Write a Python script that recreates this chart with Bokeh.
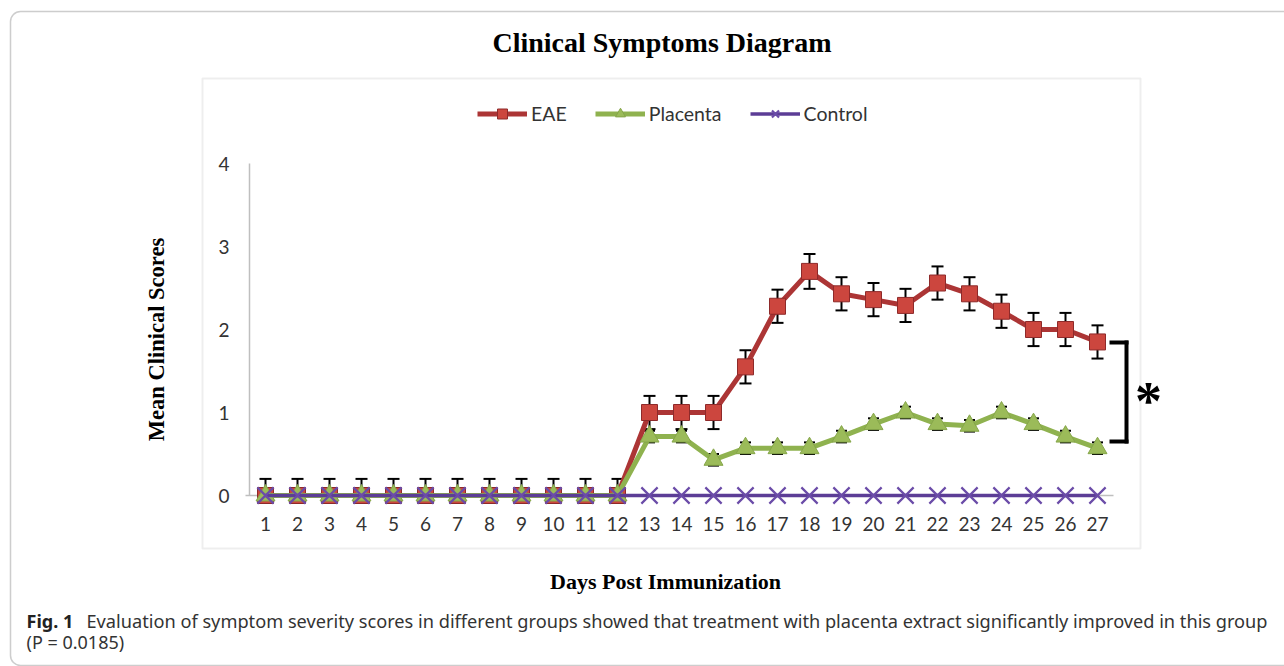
from bokeh.plotting import figure
from bokeh.models import (Range1d, FixedTicker, Label, BoxAnnotation, Arrow,
                          Whisker, ColumnDataSource, Legend, LegendItem, TeeHead)
from bokeh.embed import file_html
from bokeh.resources import INLINE

# ---------------- data ----------------
days = [1, 2, 3, 4, 5, 6, 7, 8, 9, 10, 11, 12, 13, 14, 15, 16, 17, 18, 19, 20,
        21, 22, 23, 24, 25, 26, 27]
eae = [0, 0, 0, 0, 0, 0, 0, 0, 0, 0, 0, 0,
       1.0, 1.0, 1.0, 1.55, 2.28, 2.70, 2.43, 2.36, 2.29, 2.56, 2.43, 2.22, 2.0, 2.0, 1.85]
eae_err = [0.2, 0.2, 0.2, 0.2, 0.2, 0.2, 0.2, 0.2, 0.2, 0.2, 0.2, 0.2,
           0.2, 0.2, 0.2, 0.2, 0.2, 0.21, 0.2, 0.2, 0.2, 0.2, 0.2, 0.2, 0.2, 0.2, 0.2]
placenta = [0, 0, 0, 0, 0, 0, 0, 0, 0, 0, 0, 0,
            0.71, 0.71, 0.43, 0.57, 0.57, 0.57, 0.71, 0.86, 1.0, 0.86, 0.84, 1.0, 0.86, 0.71, 0.57]
placenta_err = [0, 0, 0, 0, 0, 0, 0, 0, 0, 0, 0, 0,
                0.07, 0.07, 0.07, 0.07, 0.07, 0.07, 0.07, 0.07, 0.07, 0.07, 0.07, 0.07, 0.07, 0.07, 0.07]
control = [0, 0, 0, 0, 0, 0, 0, 0, 0, 0, 0, 0, 0, 0, 0, 0, 0, 0, 0, 0,
           0, 0, 0, 0, 0, 0, 0]
y_ticks = [0, 1, 2, 3, 4]
series_names = ["EAE", "Placenta", "Control"]

title_text = "Clinical Symptoms Diagram"
x_title = "Days Post Immunization"
y_title = "Mean Clinical Scores"
caption_bold = "Fig. 1"
caption_line1 = ("Evaluation of symptom severity scores in different groups showed that "
                 "treatment with placenta extract significantly improved in this group")
caption_line2 = "(P = 0.0185)"

# ---------------- layout geometry (canvas pixels) ----------------
W, H = 1284, 666
PX_DAY = 32.0       # pixels per day
PX_UNIT = 83.0      # pixels per score unit
X_EDGE = 249.0      # pixel of the category-axis start (x = 0.5)
Y_ZERO = 495.0      # pixel of score 0

x_start = 0.5 - X_EDGE / PX_DAY
x_end = 0.5 + (W - X_EDGE) / PX_DAY
y_end = Y_ZERO / PX_UNIT
y_start = (Y_ZERO - H) / PX_UNIT

def dx(px):
    return 0.5 + (px - X_EDGE) / PX_DAY

def dy(py):
    return (Y_ZERO - py) / PX_UNIT

p = figure(width=W, height=H, output_backend="svg", toolbar_location=None, title=None,
           x_range=Range1d(x_start, x_end), y_range=Range1d(y_start, y_end),
           min_border=0, min_border_left=0, min_border_right=0,
           min_border_top=0, min_border_bottom=0)
p.outline_line_color = None
p.grid.visible = False
p.background_fill_color = "white"
p.border_fill_color = "white"

# axes, fixed inside the frame
p.xaxis.fixed_location = dy(514)
p.yaxis.fixed_location = 0.5
p.xaxis.ticker = FixedTicker(ticks=days)
p.yaxis.ticker = FixedTicker(ticks=y_ticks)
for ax in (p.xaxis[0], p.yaxis[0]):
    ax.axis_line_color = None
    ax.major_tick_line_color = None
    ax.minor_tick_line_color = None
    ax.major_tick_in = 0
    ax.major_tick_out = 0
    ax.major_label_text_font = "Lato"
    ax.major_label_text_font_size = "19px"
    ax.major_label_text_color = "#333333"
p.xaxis.major_label_standoff = 2
p.yaxis.major_label_standoff = 20

# axis lines
p.add_layout(Arrow(x_start=0.5, y_start=0, x_end=0.5, y_end=4, start=None, end=None,
                   line_color="#BFBFBF", line_width=1.5))
p.add_layout(Arrow(x_start=dx(245), y_start=0, x_end=27.5, y_end=0, start=None, end=None,
                   line_color="#BFBFBF", line_width=1.5, level="underlay"))

# boxes
p.add_layout(BoxAnnotation(left=dx(10), right=dx(1300), top=dy(11), bottom=dy(665),
                           fill_alpha=0, line_color="#5a5a5a", line_width=1.5,
                           border_radius=10, level="underlay"))
p.add_layout(BoxAnnotation(left=dx(202), right=dx(1140), top=dy(78), bottom=dy(548),
                           fill_alpha=0, line_color="#C8C8C8", line_width=2,
                           level="underlay"))

# ---------------- series ----------------
src = ColumnDataSource(dict(
    day=days, eae=eae, placenta=placenta, control=control,
    eae_up=[v + e for v, e in zip(eae, eae_err)],
    eae_lo=[max(0, v - e) for v, e in zip(eae, eae_err)],
    pl_up=[v + e for v, e in zip(placenta, placenta_err)],
    pl_lo=[max(0, v - e) for v, e in zip(placenta, placenta_err)],
))

p.add_layout(Whisker(source=src, base="day", upper="eae_up", lower="eae_lo",
                     line_color="black", line_width=2,
                     upper_head=TeeHead(size=12, line_width=2, line_color="black"),
                     lower_head=TeeHead(size=12, line_width=2, line_color="black")))
p.add_layout(Whisker(source=src, base="day", upper="pl_up", lower="pl_lo",
                     line_color="black", line_width=2,
                     upper_head=TeeHead(size=11, line_width=2, line_color="black"),
                     lower_head=TeeHead(size=11, line_width=2, line_color="black")))

eae_l = p.line("day", "eae", source=src, line_color="#AC3535", line_width=5)
eae_m = p.scatter("day", "eae", source=src, marker="square", size=16,
                  fill_color="#CC463E", line_color="#8E2A2A", line_width=1)
pl_l = p.line("day", "placenta", source=src, line_color="#8FB24F", line_width=5)
pl_m = p.scatter("day", "placenta", source=src, marker="triangle", size=19,
                 fill_color="#9BBB59", line_color="#86A64A", line_width=1)
ct_l = p.line("day", "control", source=src, line_color="#5C3D96", line_width=3.5)
ct_m = p.scatter("day", "control", source=src, marker="x", size=23,
                 line_color="#6B4CA8", line_width=2.2)

legend = Legend(items=[LegendItem(label=series_names[0], renderers=[eae_l, eae_m]),
                       LegendItem(label=series_names[1], renderers=[pl_l, pl_m]),
                       LegendItem(label=series_names[2], renderers=[ct_l, ct_m])],
                orientation="horizontal",
                location=(477, H - 125.5),
                glyph_width=50, glyph_height=25, label_height=25,
                label_standoff=4, spacing=28, padding=0, margin=0,
                border_line_color=None, background_fill_alpha=0,
                label_text_font="Lato", label_text_font_size="19.5px",
                label_text_color="#333333")
p.add_layout(legend)

# bracket + asterisk
bk = dict(start=None, end=None, line_color="black", line_width=4, line_cap="square")
p.add_layout(Arrow(x_start=dx(1111), y_start=dy(342), x_end=dx(1126), y_end=dy(342), **bk))
p.add_layout(Arrow(x_start=dx(1126), y_start=dy(342), x_end=dx(1126), y_end=dy(441), **bk))
p.add_layout(Arrow(x_start=dx(1111), y_start=dy(441), x_end=dx(1126), y_end=dy(441), **bk))
p.add_layout(Label(x=dx(1148), y=dy(400), text="*", text_align="center",
                   text_baseline="alphabetic", text_font="Liberation Serif",
                   text_font_style="bold", text_font_size="54px", text_color="black"))

# titles
serif = "Liberation Serif"
p.add_layout(Label(x=dx(661.5), y=dy(42), text=title_text, text_align="center",
                   text_baseline="alphabetic", text_font=serif, text_font_style="bold",
                   text_font_size="28px", text_color="black"))
p.add_layout(Label(x=dx(665), y=dy(581), text=x_title, text_align="center",
                   text_baseline="alphabetic", text_font=serif, text_font_style="bold",
                   text_font_size="22px", text_color="black"))
p.add_layout(Label(x=dx(156), y=dy(339), text=y_title, angle=1.5707963,
                   text_align="center", text_baseline="alphabetic", text_font=serif,
                   text_font_style="bold", text_font_size="22.5px", text_color="black"))

# caption
p.add_layout(Label(x=dx(26), y=dy(620), text=caption_bold, text_align="left",
                   text_baseline="alphabetic", text_font="Noto Sans", text_font_style="bold",
                   text_font_size="18px", text_color="#222222"))
p.add_layout(Label(x=dx(86), y=dy(620), text=caption_line1, text_align="left",
                   text_baseline="alphabetic", text_font="Noto Sans",
                   text_font_size="18.2px", text_color="#333333"))
p.add_layout(Label(x=dx(26), y=dy(641), text=caption_line2, text_align="left",
                   text_baseline="alphabetic", text_font="Noto Sans",
                   text_font_size="18px", text_color="#333333"))

open("out.html", "w").write(file_html(p, INLINE))
